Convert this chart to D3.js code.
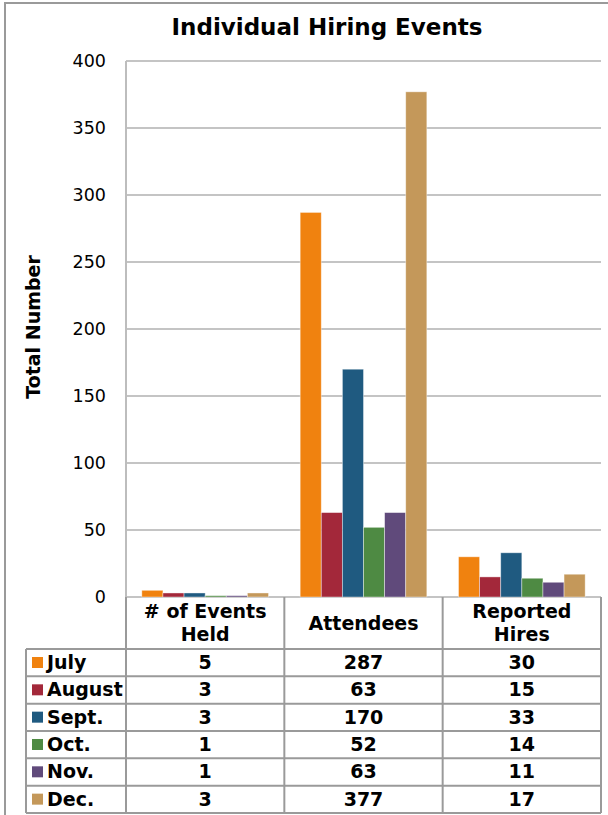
<!DOCTYPE html>
<html><head><meta charset="utf-8">
<script src="https://cdn.jsdelivr.net/npm/d3@7"></script>
<style>body{margin:0;background:#fff}svg{display:block}</style>
</head><body>
<svg id="c" width="608" height="815"></svg>
<script>
const categories = ["# of Events|Held", "Attendees", "Reported|Hires"];
const months = ["July", "August", "Sept.", "Oct.", "Nov.", "Dec."];
const colors = ["#F0820F", "#A3283A", "#1F5A80", "#4E8A43", "#604A7B", "#C4985A"];
const eventsHeld = [5, 3, 3, 1, 1, 3];
const attendees = [287, 63, 170, 52, 63, 377];
const reportedHires = [30, 15, 33, 14, 11, 17];
const yTicks = [0, 50, 100, 150, 200, 250, 300, 350, 400];
const title = "Individual Hiring Events";
const yTitle = "Total Number";

(function () {
const series = months.map((m, i) => ({ month: m, color: colors[i], values: [eventsHeld[i], attendees[i], reportedHires[i]] }));

const svg = d3.select("#c");
const FONT = "'DejaVu Sans', Verdana, sans-serif";
const pLeft = 126, pRight = 601, pTop = 61, pBottom = 597;
const rowH = 27.33, headerBottom = 649;

// outer frame
svg.append("rect").attr("x", 5).attr("y", 3).attr("width", 700).attr("height", 900)
  .attr("fill", "none").attr("stroke", "#9a9a9a").attr("stroke-width", 2);

const y = d3.scaleLinear().domain([0, 400]).range([pBottom, pTop]);
const x0 = d3.scaleBand().domain(categories).range([pLeft, pRight]);
const gw = x0.bandwidth();
const x1 = d3.scaleBand().domain(months).range([gw * 0.1, gw * 0.9]);

// gridlines
svg.append("g").selectAll("line").data(yTicks).join("line")
  .attr("x1", pLeft).attr("x2", pRight)
  .attr("y1", d => y(d)).attr("y2", d => y(d))
  .attr("stroke", "#c4c4c4").attr("stroke-width", 2);

// y axis tick labels
svg.append("g").selectAll("text").data(yTicks).join("text")
  .attr("x", 106).attr("y", d => y(d)).attr("dy", "0.35em")
  .attr("text-anchor", "end").attr("font-family", FONT).attr("font-size", 17.5)
  .attr("fill", "#000").text(d => d);

// bars
const g = svg.append("g");
categories.forEach((c, ci) => {
  g.append("g").attr("transform", `translate(${x0(c)},0)`)
    .selectAll("rect").data(series).join("rect")
    .attr("x", d => x1(d.month)).attr("width", x1.bandwidth())
    .attr("y", d => y(d.values[ci])).attr("height", d => y(0) - y(d.values[ci]))
    .attr("fill", d => d.color)
    .attr("stroke", "rgba(255,255,255,0.5)").attr("stroke-width", 0.8);
});

// axis line
svg.append("line").attr("x1", pLeft).attr("x2", pLeft).attr("y1", pTop).attr("y2", pBottom)
  .attr("stroke", "#bdbdbd").attr("stroke-width", 2);

// title
svg.append("text").attr("x", 327).attr("y", 35).attr("text-anchor", "middle")
  .attr("font-family", FONT).attr("font-weight", "bold").attr("font-size", 23).text(title);

// y title
svg.append("text").attr("transform", "translate(40,327) rotate(-90)")
  .attr("text-anchor", "middle").attr("font-family", FONT).attr("font-weight", "bold")
  .attr("font-size", 19).text(yTitle);

// data table
const tbl = svg.append("g");
const lineC = "#9a9a9a";
const tableLeft = 26;
const tableBottom = headerBottom + rowH * months.length;
categories.forEach(c => {
  const lines = c.split("|");
  const cx = x0(c) + gw / 2;
  const t = tbl.append("text").attr("text-anchor", "middle").attr("font-family", FONT)
    .attr("font-weight", "bold").attr("font-size", 19);
  const startY = lines.length === 1 ? 630 : 618;
  lines.forEach((l, i) => t.append("tspan").attr("x", cx).attr("y", startY + i * 23).text(l));
});
series.forEach((s, i) => {
  const ry = headerBottom + i * rowH;
  tbl.append("rect").attr("x", 32).attr("y", ry + 8).attr("width", 11).attr("height", 11).attr("fill", s.color);
  tbl.append("text").attr("x", 47).attr("y", ry + 20).attr("font-family", FONT)
    .attr("font-weight", "bold").attr("font-size", 19).text(s.month);
  categories.forEach((c, ci) => {
    tbl.append("text").attr("x", x0(c) + gw / 2).attr("y", ry + 20).attr("text-anchor", "middle")
      .attr("font-family", FONT).attr("font-weight", "bold").attr("font-size", 19).text(s.values[ci]);
  });
});
d3.range(months.length + 1).forEach(i => {
  const ly = headerBottom + i * rowH;
  tbl.append("line").attr("x1", tableLeft).attr("x2", pRight).attr("y1", ly).attr("y2", ly)
    .attr("stroke", lineC).attr("stroke-width", 2);
});
tbl.append("line").attr("x1", tableLeft).attr("x2", tableLeft).attr("y1", headerBottom).attr("y2", tableBottom)
  .attr("stroke", lineC).attr("stroke-width", 2);
[pLeft, x0(categories[1]), x0(categories[2]), pRight].forEach(vx => {
  tbl.append("line").attr("x1", vx).attr("x2", vx).attr("y1", pBottom).attr("y2", tableBottom)
    .attr("stroke", lineC).attr("stroke-width", 2);
});
})();
</script>
</body></html>
